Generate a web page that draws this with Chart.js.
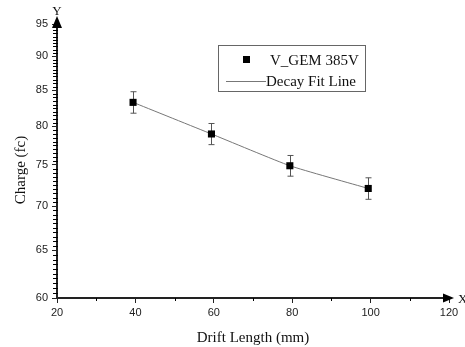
<!DOCTYPE html>
<html>
<head>
<meta charset="utf-8">
<script src="https://cdn.jsdelivr.net/npm/chart.js@4.4.1/dist/chart.umd.min.js"></script>
<style>
  html, body { margin: 0; padding: 0; background: #fff; }
  #wrap { width: 465px; height: 347px; position: relative; }
</style>
</head>
<body>
<div id="wrap"><canvas id="c" width="465" height="347"></canvas></div>
<script>
// ---- data ----
const driftLength = [39.4, 59.4, 79.4, 99.4];          // mm
const charge      = [83.3, 79.0, 74.9, 72.1];          // fC
const chargeErr   = [1.5, 1.4, 1.3, 1.3];              // +/- error
const fitCharge   = [83.3, 79.0, 74.9, 72.1];          // decay fit line
const xTicks = [20, 40, 60, 80, 100, 120];
const xMinorTicks = [30, 50, 70, 90, 110];
const yTicks = [60, 65, 70, 75, 80, 85, 90, 95];
const yMinorStep = 0.5;
const seriesName = 'V_GEM 385V';
const fitName = 'Decay Fit Line';
const xTitle = 'Drift Length (mm)';
const yTitle = 'Charge (fc)';

const serif = '"Liberation Serif", "DejaVu Serif", serif';
const sans = '"Liberation Sans", Arial, sans-serif';

const decor = {
  id: 'decor',
  beforeDatasetsDraw(chart) {
    const {ctx} = chart;
    const xs = chart.scales.x, ys = chart.scales.y;
    ctx.save();
    ctx.strokeStyle = '#555';
    ctx.lineWidth = 1;
    driftLength.forEach((x, i) => {
      const px = Math.round(xs.getPixelForValue(x)) + 0.5;
      const top = ys.getPixelForValue(charge[i] + chargeErr[i]);
      const bot = ys.getPixelForValue(charge[i] - chargeErr[i]);
      ctx.beginPath();
      ctx.moveTo(px, top); ctx.lineTo(px, bot);
      ctx.moveTo(px - 3, top); ctx.lineTo(px + 3, top);
      ctx.moveTo(px - 3, bot); ctx.lineTo(px + 3, bot);
      ctx.stroke();
    });
    ctx.restore();
  },
  afterDraw(chart) {
    const {ctx, chartArea: a} = chart;
    const xs = chart.scales.x, ys = chart.scales.y;
    ctx.save();
    // minor ticks on y
    ctx.strokeStyle = '#000';
    ctx.lineWidth = 1;
    const n = Math.round((95 - 60) / yMinorStep);
    for (let k = 1; k < n; k++) {
      if (k % 10 === 0) continue;
      const v = 60 + k * yMinorStep;
      const py = Math.round(ys.getPixelForValue(v)) + 0.5;
      ctx.beginPath();
      ctx.moveTo(a.left - 4, py); ctx.lineTo(a.left + 1, py);
      ctx.stroke();
    }
    // minor ticks on x
    ctx.beginPath();
    xMinorTicks.forEach(v => {
      const px = Math.round(xs.getPixelForValue(v)) + 0.5;
      ctx.moveTo(px, a.bottom); ctx.lineTo(px, a.bottom + 3);
    });
    ctx.stroke();
    // arrows
    ctx.fillStyle = '#000';
    ctx.beginPath();
    ctx.moveTo(a.left, a.top - 8);
    ctx.lineTo(a.left - 5, a.top + 4);
    ctx.lineTo(a.left + 5, a.top + 4);
    ctx.closePath();
    ctx.fill();
    ctx.beginPath();
    ctx.moveTo(a.right + 5, a.bottom);
    ctx.lineTo(a.right - 6, a.bottom - 4.5);
    ctx.lineTo(a.right - 6, a.bottom + 4.5);
    ctx.closePath();
    ctx.fill();
    // axis letters
    ctx.fillStyle = '#111';
    ctx.font = '13px ' + serif;
    ctx.textAlign = 'center';
    ctx.textBaseline = 'alphabetic';
    ctx.fillText('Y', a.left, a.top - 9);
    ctx.textAlign = 'left';
    ctx.fillText('X', a.right + 9, a.bottom + 5);
    // axis titles
    ctx.font = '15px ' + serif;
    ctx.textAlign = 'center';
    ctx.textBaseline = 'middle';
    ctx.fillText(xTitle, (a.left + a.right) / 2, 338);
    ctx.save();
    ctx.translate(21, 170);
    ctx.rotate(-Math.PI / 2);
    ctx.fillText(yTitle, 0, 0);
    ctx.restore();
    // legend box
    const lx = a.left + 161, ly = a.top + 21;
    ctx.strokeStyle = '#666';
    ctx.lineWidth = 1;
    ctx.strokeRect(lx + 0.5, ly + 0.5, 147, 46);
    ctx.fillStyle = '#000';
    ctx.fillRect(lx + 25, ly + 11, 7, 7);
    ctx.strokeStyle = '#777';
    ctx.beginPath();
    ctx.moveTo(lx + 8, ly + 36.5); ctx.lineTo(lx + 48, ly + 36.5);
    ctx.stroke();
    ctx.fillStyle = '#111';
    ctx.font = '15px ' + serif;
    ctx.textAlign = 'left';
    ctx.textBaseline = 'alphabetic';
    ctx.fillText(seriesName, lx + 52, ly + 20);
    ctx.fillText(fitName, lx + 48, ly + 41);
    ctx.restore();
  }
};

new Chart(document.getElementById('c'), {
  type: 'line',
  data: {
    datasets: [
      {
        label: seriesName,
        data: driftLength.map((x, i) => ({x, y: charge[i]})),
        showLine: false,
        pointStyle: 'rect',
        pointRadius: 5,
        pointBackgroundColor: '#000',
        pointBorderColor: '#000',
        pointBorderWidth: 0,
        order: 0
      },
      {
        label: fitName,
        data: driftLength.map((x, i) => ({x, y: fitCharge[i]})),
        borderColor: '#777',
        borderWidth: 1,
        pointRadius: 0,
        tension: 0.15,
        fill: false,
        order: 1
      }
    ]
  },
  options: {
    responsive: false,
    animation: false,
    devicePixelRatio: 1,
    layout: { padding: { top: 24, right: 16, left: 0, bottom: 0 } },
    plugins: { legend: { display: false }, tooltip: { enabled: false } },
    scales: {
      x: {
        type: 'linear',
        min: 20, max: 120,
        afterBuildTicks: s => { s.ticks = xTicks.map(v => ({value: v})); },
        afterFit: s => { s.height = 49; },
        ticks: { color: '#222', font: { family: sans, size: 11 }, padding: 3, maxRotation: 0 },
        grid: { drawOnChartArea: false, tickLength: 5, tickColor: '#222', tickWidth: 1 },
        border: { color: '#222', width: 2 }
      },
      y: {
        type: 'logarithmic',
        min: 60, max: 95,
        afterBuildTicks: s => { s.ticks = yTicks.map(v => ({value: v})); },
        afterFit: s => { s.width = 57; },
        ticks: { color: '#222', font: { family: sans, size: 11 }, padding: 4, callback: v => String(v) },
        grid: { drawOnChartArea: false, tickLength: 5, tickColor: '#222', tickWidth: 1 },
        border: { color: '#222', width: 2 }
      }
    }
  },
  plugins: [decor]
});
</script>
</body>
</html>
